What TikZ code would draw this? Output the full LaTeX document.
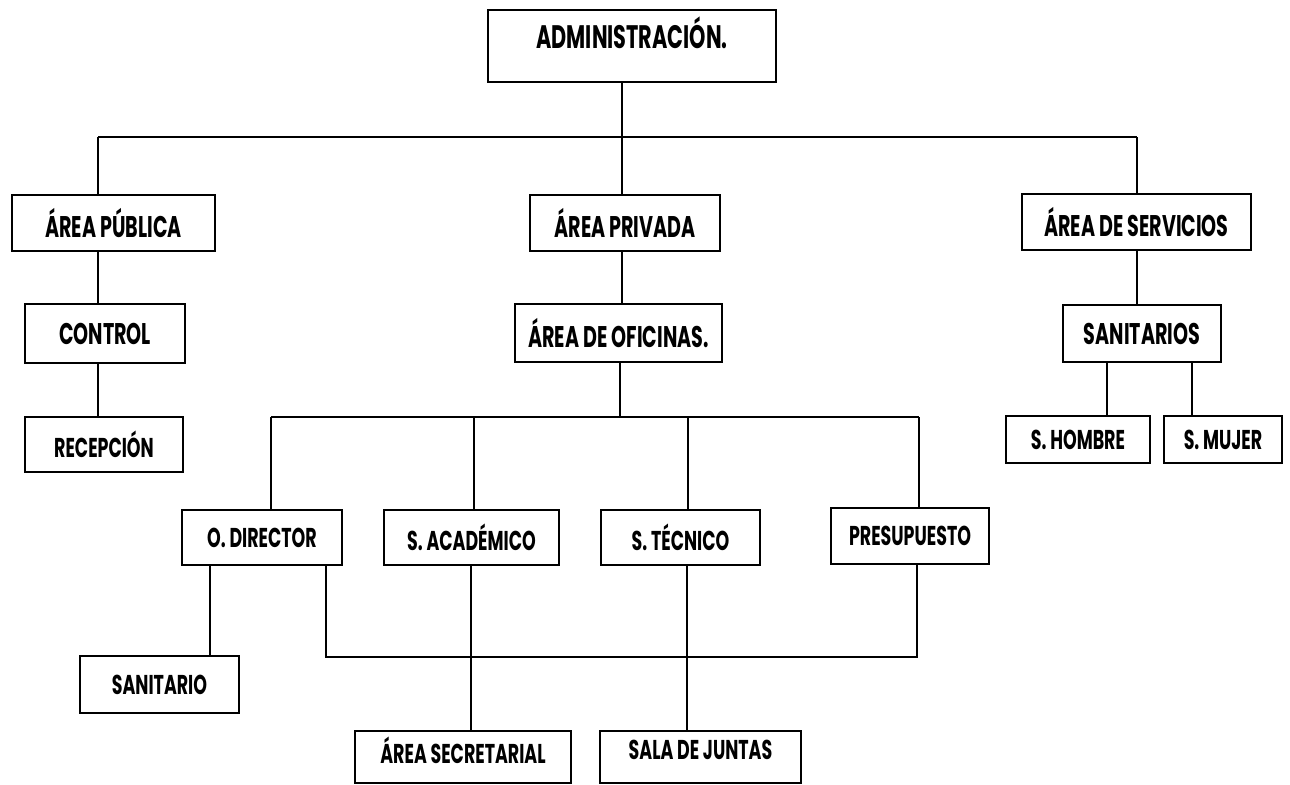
\documentclass[tikz,border=0pt]{standalone}
\usepackage{graphicx}
\usepackage{fontspec}
\setmainfont{Poppins}
\newcommand{\lbl}[1]{\scalebox{0.64}[1]{\bfseries #1}}
\newcommand{\orgbox}[7][]{%
  \node[box,#1,minimum width={(#5-#3)*0.02cm},minimum height={(#6-#4)*0.02cm}]
    (#2) at ({(#3+#5)/2},{(#4+#6)/2}) {\lbl{#7}};}
\tikzset{
  box/.style={draw,line width=1.2pt,inner sep=0pt,font=\fontsize{17pt}{19pt}\selectfont},
  small/.style={font=\fontsize{15.5pt}{17pt}\selectfont},
  conn/.style={line width=1.1pt},
}
\begin{document}
\begin{tikzpicture}[x=0.02cm,y=-0.02cm]
\useasboundingbox (0,0) rectangle (1290,784);
% boxes
\orgbox[font=\fontsize{18.5pt}{20pt}\selectfont,text depth=26*0.02cm]{admin}{488}{10}{776}{82}{ADMINISTRACIÓN.}
\orgbox{pub}{12}{195}{215}{251}{ÁREA PÚBLICA}
\orgbox{priv}{530}{195}{720}{251}{ÁREA PRIVADA}
\orgbox{serv}{1022}{194}{1251}{250}{ÁREA DE SERVICIOS}
\orgbox{ctrl}{25}{304}{185}{363}{CONTROL}
\orgbox{ofi}{515}{304}{722}{362}{ÁREA DE OFICINAS.}
\orgbox{sant}{1063}{305}{1221}{362}{SANITARIOS}
\orgbox[small]{recep}{25}{417}{183}{472}{RECEPCIÓN}
\orgbox[small]{homb}{1006}{416}{1150}{463}{S. HOMBRE}
\orgbox[small]{muj}{1164}{416}{1282}{463}{S. MUJER}
\orgbox[small]{dir}{182}{510}{342}{565}{O. DIRECTOR}
\orgbox[small]{acad}{384}{510}{559}{565}{S. ACADÉMICO}
\orgbox[small]{tec}{601}{510}{760}{565}{S. TÉCNICO}
\orgbox[small]{pres}{831}{508}{989}{564}{PRESUPUESTO}
\orgbox[small]{sanit}{80}{656}{239}{713}{SANITARIO}
\orgbox[small,text depth=14*0.02cm]{secr}{355}{731}{571}{783}{ÁREA SECRETARIAL}
\orgbox[small,text depth=14*0.02cm]{sala}{600}{731}{801}{783}{SALA DE JUNTAS}
% bus coordinates
\coordinate (b1) at (622,137);
\coordinate (b1l) at (98,137);
\coordinate (b1r) at (1137,137);
\coordinate (b2) at (620,417);
\coordinate (b2l) at (271,417);
\coordinate (b2r) at (919,417);
\coordinate (lpl) at (326,657);
\coordinate (lpr) at (917,657);
% connectors
\draw[conn] (admin.south -| b1) -- (b1);
\draw[conn] (b1l) -- (b1r);
\draw[conn] (b1l) -- (pub.north -| b1l);
\draw[conn] (b1) -- (priv.north -| b1);
\draw[conn] (b1r) -- (serv.north -| b1r);
\draw[conn] (pub.south -| b1l) -- (ctrl.north -| b1l);
\draw[conn] (ctrl.south -| b1l) -- (recep.north -| b1l);
\draw[conn] (priv.south -| b1) -- (ofi.north -| b1);
\draw[conn] (ofi.south -| b2) -- (b2);
\draw[conn] (b2l) -- (b2r);
\draw[conn] (b2l) -- (dir.north -| b2l);
\draw[conn] (b2l -| 474,0) -- (acad.north -| 474,0);
\draw[conn] (b2l -| 688,0) -- (tec.north -| 688,0);
\draw[conn] (b2r) -- (pres.north -| b2r);
\draw[conn] (serv.south -| b1r) -- (sant.north -| b1r);
\draw[conn] (sant.south -| 1107,0) -- (homb.north -| 1107,0);
\draw[conn] (sant.south -| 1192,0) -- (muj.north -| 1192,0);
\draw[conn] (dir.south -| 210,0) -- (sanit.north -| 210,0);
\draw[conn] (dir.south -| lpl) -- (lpl) -- (lpr) -- (pres.south -| lpr);
\draw[conn] (acad.south -| 471,0) -- (secr.north -| 471,0);
\draw[conn] (tec.south -| 687,0) -- (sala.north -| 687,0);
\end{tikzpicture}
\end{document}
